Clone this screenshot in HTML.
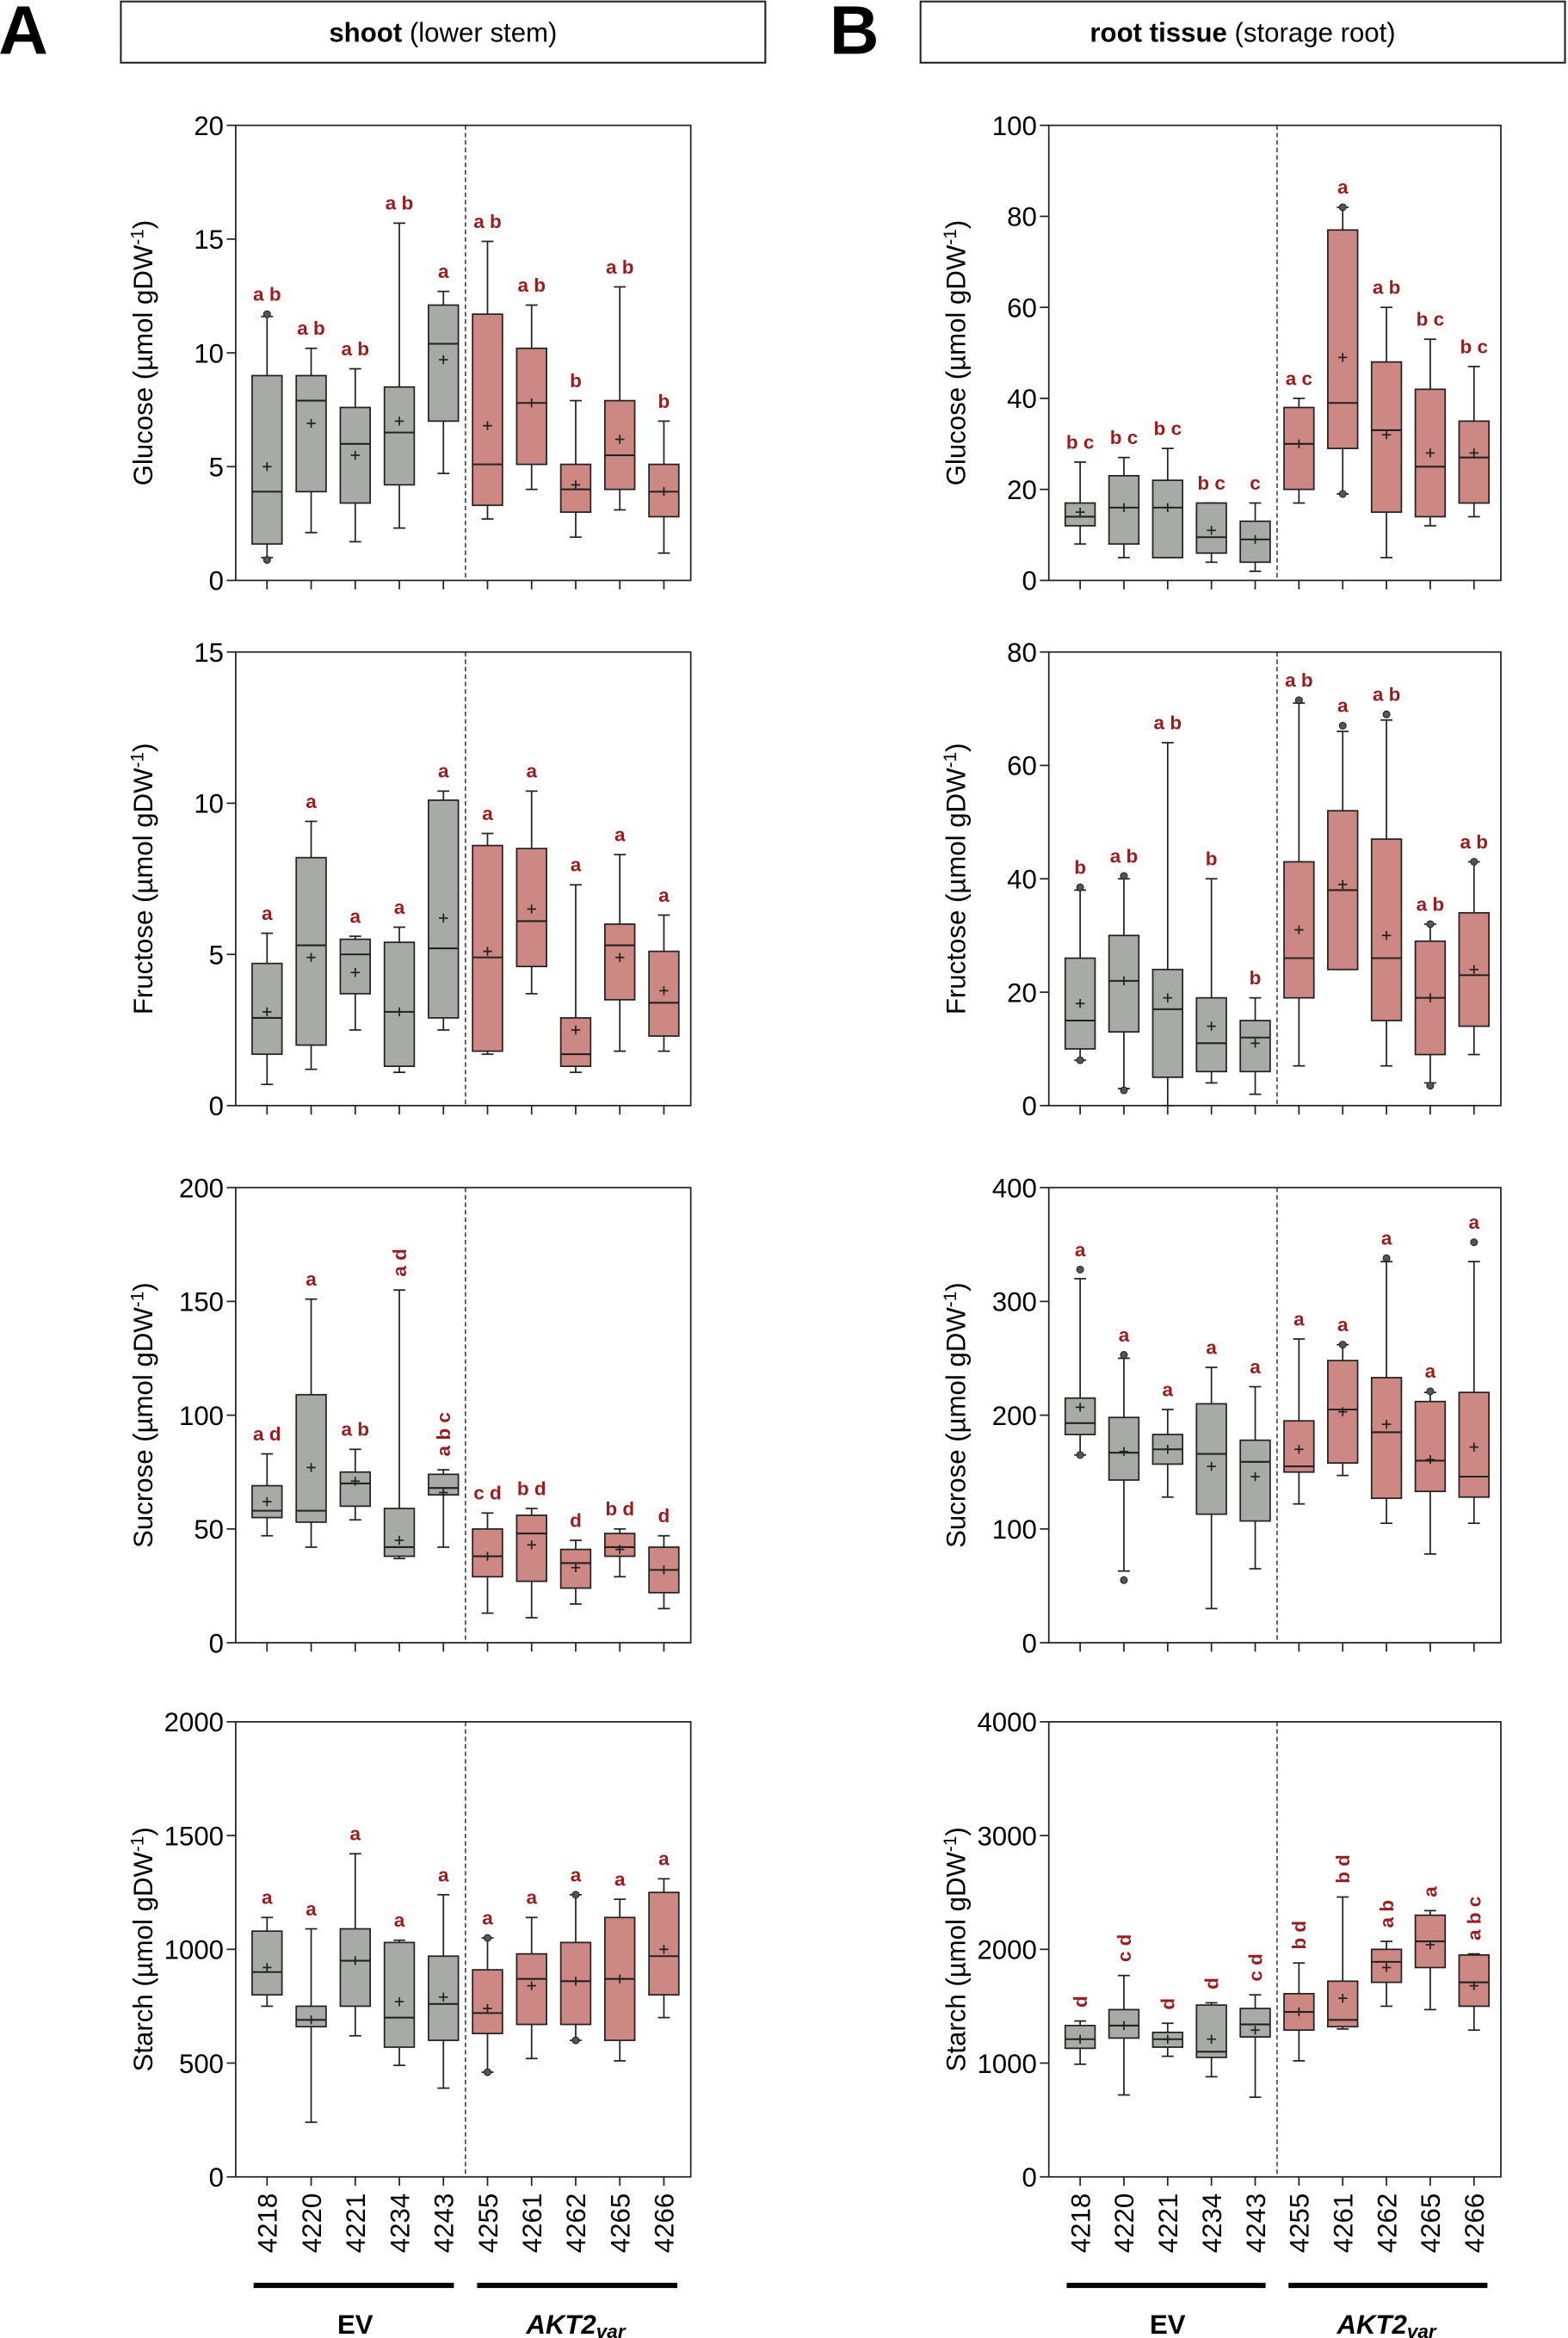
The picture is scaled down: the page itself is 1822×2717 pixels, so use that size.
<!DOCTYPE html>
<html><head><meta charset="utf-8"><style>
html,body{margin:0;padding:0;background:#fff}
svg{display:block}
text{font-family:"Liberation Sans",sans-serif}
</style></head><body>
<svg id="s" width="1822" height="2717" viewBox="0 0 1051 1567" preserveAspectRatio="none" xmlns="http://www.w3.org/2000/svg">
<rect width="1051" height="1567" fill="#fff"/>
<text x="-1" y="36" font-size="46" font-weight="bold">A</text>
<text x="556" y="36" font-size="46" font-weight="bold">B</text>
<rect x="81" y="1" width="432" height="41" fill="#fff" stroke="#222" stroke-width="1.2"/>
<rect x="617" y="1" width="432" height="41" fill="#fff" stroke="#222" stroke-width="1.2"/>
<text x="297" y="28" font-size="18" text-anchor="middle"><tspan font-weight="bold">shoot</tspan> (lower stem)</text>
<text x="833" y="28" font-size="18" text-anchor="middle"><tspan font-weight="bold">root tissue</tspan> (storage root)</text>
<g id="g"></g>
</svg>
<script>
var G=document.getElementById('g'),h='';
function L(x1,y1,x2,y2,w,extra){h+='<line x1="'+x1+'" y1="'+y1+'" x2="'+x2+'" y2="'+y2+'" stroke="#222" stroke-width="'+(w||1)+'" '+(extra||'')+'/>';}
function T(x,y,s,fs,a,extra){h+='<text x="'+x+'" y="'+y+'" font-size="'+fs+'" text-anchor="'+(a||'middle')+'" '+(extra||'')+'>'+s+'</text>';}
var names=['4218','4220','4221','4234','4243','4255','4261','4262','4265','4266'];
var panels=[
{x0:158,x1:463,y0:84,y1:389,max:20,step:5,lab:'Glucose',d:[
[1,1.6,3.9,9,11.6,5,'a b'],[2.1,3.9,7.9,9,10.2,6.9,'a b'],[1.7,3.4,6,7.6,9.3,5.5,'a b'],[2.3,4.2,6.5,8.5,15.7,7,'a b'],[4.7,7,10.4,12.1,12.7,9.7,'a'],
[2.7,3.3,5.1,11.7,14.9,6.8,'a b'],[4,5.1,7.8,10.2,12.1,7.8,'a b'],[1.9,3,4,5.1,7.9,4.2,'b'],[3.1,4,5.5,7.9,12.9,6.2,'a b'],[1.2,2.8,3.9,5.1,7,3.9,'b']],out:[[0,0.9],[0,11.7]]},
{x0:158,x1:463,y0:437,y1:741,max:15,step:5,lab:'Fructose',d:[
[0.7,1.7,2.9,4.7,5.7,3.1,'a'],[1.2,2,5.3,8.2,9.4,4.9,'a'],[2.5,3.7,5,5.5,5.6,4.4,'a'],[1.1,1.3,3.1,5.4,5.9,3.1,'a'],[2.5,2.9,5.2,10.1,10.4,6.2,'a'],
[1.7,1.8,4.9,8.6,9,5.1,'a'],[3.7,4.6,6.1,8.5,10.4,6.5,'a'],[1.1,1.3,1.7,2.9,7.3,2.5,'a'],[1.8,3.5,5.3,6,8.3,4.9,'a'],[1.8,2.3,3.4,5.1,6.3,3.8,'a']],out:[]},
{x0:158,x1:463,y0:796,y1:1101,max:200,step:50,lab:'Sucrose',d:[
[47,55,58,69,83,62,'a d'],[42,53,58,109,151,77,'a'],[54,60,70,75,85,71,'a b'],[37,38,42,59,155,45,'a d',1],[42,65,68,74,76,66,'a b c',1],
[13,29,38,50,57,38,'c d'],[11,27,48,56,59,43,'b d'],[17,24,35,41,45,33,'d'],[29,38,42,48,50,41,'b d'],[15,22,32,42,47,32,'d']],out:[]},
{x0:158,x1:463,y0:1154,y1:1459,max:2000,step:500,lab:'Starch',d:[
[750,800,900,1080,1140,920,'a'],[240,660,690,750,1090,690,'a'],[620,750,950,1090,1420,950,'a'],[490,570,700,1030,1040,770,'a'],[390,600,760,970,1240,790,'a'],
[460,630,720,910,1050,740,'a'],[520,670,870,980,1140,840,'a'],[600,670,860,1030,1240,860,'a'],[510,600,870,1140,1220,870,'a'],[700,800,970,1250,1310,1000,'a']],out:[[5,460],[5,1050],[7,1240],[7,600]]},
{x0:703,x1:1006,y0:84,y1:389,max:100,step:20,lab:'Glucose',d:[
[8,12,14,17,26,15,'b c'],[5,8,16,23,27,16,'b c'],[5,5,16,22,29,16,'b c'],[4,6,9.5,17,17,11,'b c'],[2,4,9,13,17,9,'c'],
[17,20,30,38,40,30,'a c'],[19,29,39,77,82,49,'a'],[5,15,33,48,60,32,'a b'],[12,14,25,42,53,28,'b c'],[14,17,27,35,47,28,'b c']],out:[[6,82],[6,19]]},
{x0:703,x1:1006,y0:437,y1:741,max:80,step:20,lab:'Fructose',d:[
[8,10,15,26,38,18,'b'],[3,13,22,30,40,22,'a b'],[0,5,17,24,64,19,'a b'],[4,6,11,19,40,14,'b'],[2,6,12,15,19,11,'b'],
[7,19,26,43,71,31,'a b'],[24,24,38,52,66,39,'a'],[7,15,26,47,68,30,'a b'],[4,9,19,29,32,19,'a b'],[9,14,23,34,43,24,'a b']],out:[[0,38.5],[0,8],[1,40.5],[1,2.7],[5,71.5],[6,67],[7,69],[8,32],[8,3.5],[9,43]]},
{x0:703,x1:1006,y0:796,y1:1101,max:400,step:100,lab:'Sucrose',d:[
[165,183,193,215,320,207,'a'],[63,143,167,198,250,168,'a'],[128,157,170,183,205,170,'a'],[30,113,166,210,242,155,'a'],[65,107,159,178,225,146,'a'],
[122,150,155,195,267,170,'a'],[147,158,205,248,262,203,'a'],[105,127,185,233,335,192,'a'],[78,133,160,212,220,161,'a'],[105,128,146,220,335,172,'a']],out:[[0,328],[0,165],[1,55],[1,253],[6,262],[7,338],[8,221],[9,352]]},
{x0:703,x1:1006,y0:1154,y1:1459,max:4000,step:1000,lab:'Starch',d:[
[990,1130,1210,1330,1370,1210,'d',1],[720,1220,1330,1470,1770,1330,'c d',1],[1060,1140,1210,1270,1350,1210,'d',1],[880,1050,1100,1510,1530,1210,'d',1],[700,1230,1340,1480,1600,1290,'c d',1],
[1020,1290,1450,1610,1880,1450,'b d',1],[1300,1320,1380,1720,2460,1570,'b d',1],[1500,1710,1890,2000,2070,1840,'a b',1],[1470,1840,2070,2300,2340,2040,'a',1],[1290,1500,1710,1950,1960,1680,'a b c',1]],out:[]}
];
panels.forEach(function(p,pi){
  var W=p.x1-p.x0,xs=[];
  var first=p.x0+21,last=p.x1-18;for(var i=0;i<10;i++)xs.push(first+(last-first)*i/9);
  var Y=function(v){return p.y1-(p.y1-p.y0)*v/p.max;};
  h+='<rect x="'+p.x0+'" y="'+p.y0+'" width="'+W+'" height="'+(p.y1-p.y0)+'" fill="none" stroke="#222" stroke-width="1"/>';
  var dx=(xs[4]+xs[5])/2;L(dx,p.y0,dx,p.y1,0.8,'stroke-dasharray="3,2"');
  for(var v=0;v<=p.max+1e-9;v+=p.step){var y=Y(v);L(p.x0-6,y,p.x0,y,1);T(p.x0-8,y+6.5,v,18,'end');}
  xs.forEach(function(x){L(x,p.y1,x,p.y1+6,1);});
  var cy=(p.y0+p.y1)/2,lx=p.x0-56;
  T(lx,cy,p.lab+' (µmol gDW<tspan font-size="12" dy="-6">-1</tspan><tspan dy="6">)</tspan>',18,'middle','transform="rotate(-90 '+lx+' '+cy+')"');
  p.d.forEach(function(b,i){
    var x=xs[i],fill=i<5?'#a8aaa8':'#cd8883',hw=10;
    L(x,Y(b[0]),x,Y(b[1]),1);L(x,Y(b[3]),x,Y(b[4]),1);
    L(x-4,Y(b[0]),x+4,Y(b[0]),1);L(x-4,Y(b[4]),x+4,Y(b[4]),1);
    h+='<rect x="'+(x-hw)+'" y="'+Y(b[3])+'" width="'+(2*hw)+'" height="'+(Y(b[1])-Y(b[3]))+'" fill="'+fill+'" stroke="#222" stroke-width="1"/>';
    L(x-hw,Y(b[2]),x+hw,Y(b[2]),1.2);
    var my=Y(b[5]);L(x-3,my,x+3,my,1);L(x,my-3,x,my+3,1);
    var ty=Math.min(Y(b[4]),p.out.filter(function(o){return o[0]==i;}).reduce(function(m,o){return Math.min(m,Y(o[1]));},9999))-9;
    if(b[7]){T(x+4.5,ty,b[6],13,'start','font-weight="bold" fill="#9b1c1c" transform="rotate(-90 '+(x+4.5)+' '+ty+')"');}
    else T(x,ty,b[6],13,'middle','font-weight="bold" fill="#9b1c1c"');
  });
  p.out.forEach(function(o){h+='<circle cx="'+xs[o[0]]+'" cy="'+Y(o[1])+'" r="2.3" fill="#555" stroke="#222" stroke-width="0.6"/>';});
  if(pi==3||pi==7){
    xs.forEach(function(x,i){var ty=p.y1+11;T(x+6.5,ty,names[i],18,'end','transform="rotate(-90 '+(x+6.5)+' '+ty+')"');});
    h+='<rect x="'+(xs[0]-9)+'" y="1530" width="'+(xs[4]-xs[0]+16)+'" height="3.5" fill="#000"/>';
    h+='<rect x="'+(xs[5]-7)+'" y="1530" width="'+(xs[9]-xs[5]+16)+'" height="3.5" fill="#000"/>';
    T((xs[0]+xs[4])/2,1564,'EV',18,'middle','font-weight="bold"');
    T((xs[5]+xs[9])/2,1564,'AKT2<tspan font-size="13" dy="3">var</tspan>',18,'middle','font-weight="bold" font-style="italic"');
  }
});
G.innerHTML=h;
</script>
</body></html>
